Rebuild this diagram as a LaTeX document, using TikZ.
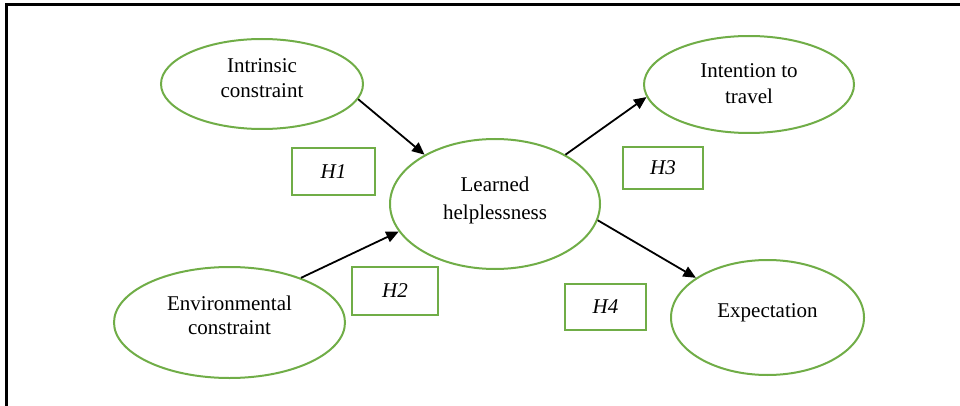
\documentclass[tikz,border=0pt]{standalone}
\usepackage{fontspec}
\setmainfont{Liberation Serif}
\usetikzlibrary{shapes.geometric,arrows.meta}
\definecolor{hgreen}{HTML}{70AD47}
\tikzset{
  oval/.style={ellipse, draw=hgreen, line width=2pt, inner sep=0pt},
  hbox/.style={rectangle, draw=hgreen, line width=2.2pt, inner sep=0pt, font=\fontsize{21}{25}\selectfont\itshape},
  lbl/.style={align=center, inner sep=0pt},
  link/.style={line width=1.8pt, -{Triangle[length=12.5pt,width=11pt]}},
  frame/.style={line width=3pt, black}
}
\begin{document}
\begin{tikzpicture}[x=1pt,y=-1pt]
\useasboundingbox (0,0) rectangle (960,406);
% frame
\coordinate (fTL) at (6.5,4.5);
\coordinate (fTR) at (960,4.5);
\coordinate (fBL) at (6.5,406);
\draw[frame] (fTR) -- (fTL) -- (fBL);
% ellipses
\node[oval, minimum width=202pt, minimum height=90pt] (intr) at (262,84) {};
\node[oval, minimum width=210pt, minimum height=97pt] (intent) at (749,84.5) {};
\node[oval, minimum width=210pt, minimum height=130pt] (learn) at (495,204) {};
\node[oval, minimum width=231pt, minimum height=111pt] (env) at (229.5,322.5) {};
\node[oval, minimum width=193pt, minimum height=115pt] (expect) at (767.5,317.5) {};
% texts
\node[lbl, font=\fontsize{21}{25}\selectfont] (intrT) at (262,78) {Intrinsic\\constraint};
\node[lbl, font=\fontsize{21}{26}\selectfont] (intentT) at (749,84) {Intention to\\travel};
\node[lbl, font=\fontsize{21}{27.3}\selectfont] (learnT) at (495,200.5) {Learned\\helplessness};
\node[lbl, font=\fontsize{21}{24}\selectfont] (envT) at (229.5,315) {Environmental\\constraint};
\node[lbl, font=\fontsize{21}{25}\selectfont] (expectT) at (767.5,312.3) {Expectation};
% hypothesis boxes
\node[hbox, minimum width=83pt, minimum height=47pt] (h1) at (333.5,171.5) {H1};
\node[hbox, minimum width=86pt, minimum height=48pt] (h2) at (395,291) {H2};
\node[hbox, minimum width=80pt, minimum height=42pt] (h3) at (663,168) {H3};
\node[hbox, minimum width=81pt, minimum height=46pt] (h4) at (605.5,307) {H4};
% arrows
\draw[link] (intr.-9) -- (learn.145);
\draw[link] (env.32) -- (learn.196);
\draw[link] (learn.35) -- (intent.187.6);
\draw[link] (learn.-9.5) -- (expect.151);
\end{tikzpicture}
\end{document}
